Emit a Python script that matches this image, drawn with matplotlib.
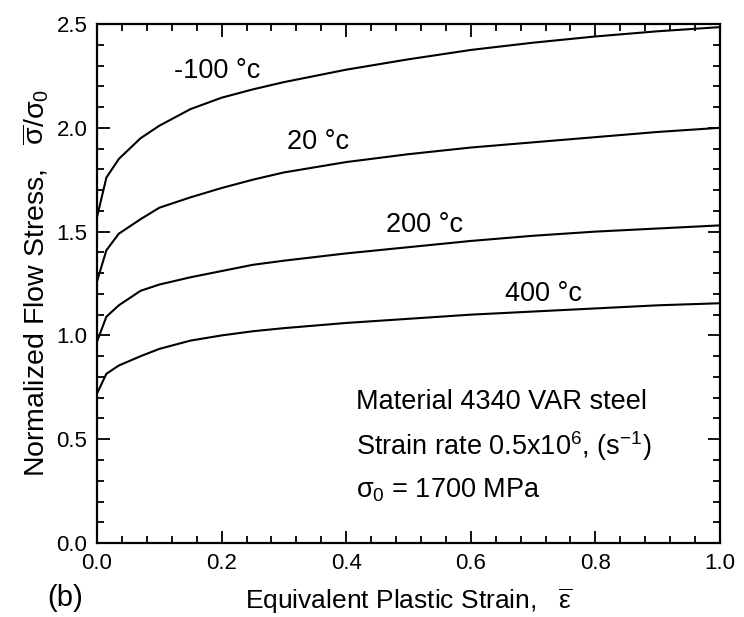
import matplotlib
matplotlib.use('Agg')
import matplotlib.pyplot as plt
from matplotlib.ticker import MultipleLocator

plt.rcParams['font.family'] = ['Liberation Sans', 'DejaVu Sans']
plt.rcParams['mathtext.fontset'] = 'custom'
plt.rcParams['mathtext.rm'] = 'Liberation Sans'
plt.rcParams['mathtext.it'] = 'Liberation Sans'

# equivalent plastic strain
strain = [0.0, 0.015, 0.035, 0.07, 0.1, 0.15, 0.2, 0.25, 0.3,
          0.4, 0.5, 0.6, 0.7, 0.8, 0.9, 1.0]

# normalized flow stress at each temperature
stress_m100 = [1.57, 1.76, 1.85, 1.95, 2.01, 2.09, 2.145, 2.185, 2.22,
               2.28, 2.33, 2.375, 2.41, 2.44, 2.465, 2.485]
stress_20 = [1.26, 1.41, 1.49, 1.56, 1.615, 1.665, 1.71, 1.75, 1.785,
             1.835, 1.873, 1.905, 1.93, 1.955, 1.98, 2.00]
stress_200 = [0.97, 1.09, 1.145, 1.215, 1.245, 1.28, 1.31, 1.34, 1.36,
              1.395, 1.425, 1.455, 1.48, 1.50, 1.515, 1.53]
stress_400 = [0.72, 0.815, 0.855, 0.90, 0.935, 0.975, 1.00, 1.02, 1.035,
              1.06, 1.08, 1.10, 1.115, 1.13, 1.145, 1.155]

curves = [stress_m100, stress_20, stress_200, stress_400]
labels = ['-100 °c', '20 °c', '200 °c', '400 °c']
label_pos = [(0.193, 2.274), (0.355, 1.93), (0.525, 1.53), (0.716, 1.20)]

fig = plt.figure(figsize=(7.44, 6.17), dpi=100)
ax = fig.add_axes([0.1304, 0.1199, 0.8373, 0.8412])

for ys, lab, (lx, ly) in zip(curves, labels, label_pos):
    ax.plot(strain, ys, color='black', linewidth=1.5)
    ax.text(lx, ly, lab, fontsize=19.5, ha='center', va='center')

ax.text(0.416, 0.68, 'Material 4340 VAR steel', fontsize=19.5, va='center')
ax.text(0.416, 0.465, r'Strain rate 0.5x10$^6$, (s$^{-1}$)', fontsize=19.5, va='center')
ax.text(0.416, 0.255, r'$\sigma_0$ = 1700 MPa', fontsize=19.5, va='center')

ax.set_xlim(0, 1)
ax.set_ylim(0, 2.5)
ax.xaxis.set_major_locator(MultipleLocator(0.2))
ax.xaxis.set_minor_locator(MultipleLocator(0.04))
ax.yaxis.set_major_locator(MultipleLocator(0.5))
ax.yaxis.set_minor_locator(MultipleLocator(0.1))
ax.xaxis.set_major_formatter(plt.FormatStrFormatter('%.1f'))
ax.yaxis.set_major_formatter(plt.FormatStrFormatter('%.1f'))
ax.tick_params(which='both', direction='in', top=True, right=True, width=1.3, labelsize=16)
ax.tick_params(which='major', length=9)
ax.tick_params(which='minor', length=5)
ax.tick_params(axis='x', which='major', pad=7)
ax.tick_params(axis='y', which='major', pad=7)
for sp in ax.spines.values():
    sp.set_linewidth(1.6)

ax.set_xlabel(r'Equivalent Plastic Strain,   $\overline{\varepsilon}$', fontsize=19, labelpad=9)
ax.set_ylabel(r'Normalized Flow Stress,   $\overline{\sigma}/\sigma_0$', fontsize=20.5, labelpad=4)
fig.text(0.064, 0.008, '(b)', fontsize=21, va='bottom')

fig.savefig('out.png', dpi=100)
